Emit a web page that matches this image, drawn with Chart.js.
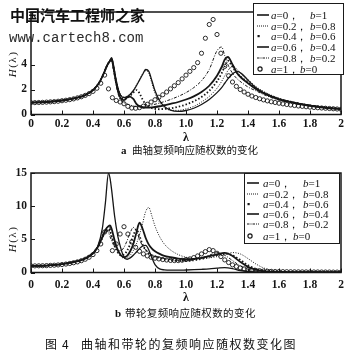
<!DOCTYPE html>
<html>
<head>
<meta charset="utf-8">
<script src="https://cdn.jsdelivr.net/npm/chart.js@4.4.1/dist/chart.umd.min.js"></script>
<style>
  body { margin: 0; background: #fff; }
  #page { position: relative; width: 350px; height: 358px; overflow: hidden; background: #fff; color: #111; font-family: "Liberation Serif", serif; }
  canvas { position: absolute; left: 0; }
  .txt { position: absolute; white-space: nowrap; }
  .cjk { font-family: "Noto Sans CJK SC", sans-serif; }
  .ytitle { position: absolute; width: 40px; height: 14px; line-height: 14px; text-align: center; font-size: 11px; letter-spacing: 1.5px; transform: rotate(-90deg); }
  .lam { position: absolute; width: 20px; text-align: center; font-size: 12px; font-weight: bold; line-height: 12px; }
  .legend { position: absolute; box-sizing: border-box; background: #fff; border: 1.2px solid #1a1a1a; font-size: 11px; }
  .legend .row { position: absolute; left: 0; width: 100%; height: 12px; line-height: 12px; white-space: nowrap; }
  .legend .row span { position: absolute; top: 0; }
</style>
</head>
<body>
<div id="page">
  <canvas id="chartA" width="350" height="140" style="top:0"></canvas>
  <canvas id="chartB" width="350" height="140" style="top:158px"></canvas>

  <div class="txt cjk" style="left:10px;top:5px;font-size:15px;font-weight:bold;line-height:20px">中国汽车工程师之家</div>
  <div class="txt" style="left:9px;top:29px;font-size:14px;line-height:18px;font-family:'Liberation Mono',monospace;color:#2a2a2a">www.cartech8.com</div>

  <div class="ytitle" style="left:-8px;top:57px"><i>H</i>(λ)</div>
  <div class="ytitle" style="left:-8px;top:232px"><i>H</i>(λ)</div>

  <div class="lam" style="left:176px;top:131px">λ</div>
  <div class="lam" style="left:176px;top:291px">λ</div>

  <div class="txt" style="left:121px;top:143px;line-height:14px;font-size:11px;font-weight:bold">a</div>
  <div class="txt cjk" style="left:132px;top:143px;line-height:14px;font-size:10.5px">曲轴复频响应随权数的变化</div>
  <div class="txt" style="left:115px;top:306px;line-height:14px;font-size:11px;font-weight:bold">b</div>
  <div class="txt cjk" style="left:125px;top:306px;line-height:14px;font-size:10.5px;letter-spacing:0.4px">带轮复频响应随权数的变化</div>

  <div class="txt cjk" style="left:45px;top:337px;line-height:14px;font-size:12px">图</div>
  <div class="txt cjk" style="left:62px;top:337px;line-height:14px;font-size:12px">4</div>
  <div class="txt cjk" style="left:81px;top:337px;line-height:14px;font-size:12px;letter-spacing:1.5px">曲轴和带轮的复频响应随权数变化图</div>

  <div id="legendA" class="legend" style="left:253px;top:3px;width:91px;height:72px"></div>
  <div id="legendB" class="legend" style="left:244px;top:173px;width:96px;height:71px"></div>
</div>

<script>
// Axis ticks
const xTicks = [0, 0.2, 0.4, 0.6, 0.8, 1.0, 1.2, 1.4, 1.6, 1.8, 2];
const xTickLabels = ['0', '0.2', '0.4', '0.6', '0.8', '1.0', '1.2', '1.4', '1.6', '1.8', '2'];
const yTicksA = [0, 2, 4];
const yTicksB = [0, 5, 10, 15];

// Legend weights
const weightA = ['0', '0.2', '0.4', '0.6', '0.8', '1'];
const weightB = ['1', '0.8', '0.6', '0.4', '0.2', '0'];

// λ grids (lines / circle markers)
const lamA = [0, 0.1, 0.2, 0.3, 0.35, 0.4, 0.44, 0.47, 0.49, 0.51,
  0.52, 0.53, 0.55, 0.57, 0.6, 0.63, 0.66, 0.68, 0.7, 0.72,
  0.74, 0.76, 0.78, 0.8, 0.83, 0.86, 0.9, 0.95, 1.0, 1.05,
  1.1, 1.15, 1.2, 1.23, 1.25, 1.27, 1.3, 1.33, 1.36, 1.4,
  1.45, 1.5, 1.6, 1.7, 1.8, 1.9, 2.0];
const lamB = [0, 0.1, 0.2, 0.3, 0.35, 0.4, 0.43, 0.46, 0.48, 0.5,
  0.51, 0.52, 0.54, 0.56, 0.58, 0.6, 0.62, 0.64, 0.66, 0.68,
  0.7, 0.72, 0.74, 0.76, 0.78, 0.8, 0.83, 0.86, 0.9, 0.95,
  1.0, 1.05, 1.1, 1.15, 1.2, 1.25, 1.3, 1.35, 1.4, 1.45,
  1.5, 1.55, 1.6, 1.7, 1.8, 1.9, 2.0];
const lamDots = [0, 0.025, 0.05, 0.075, 0.1, 0.125, 0.15, 0.175, 0.2, 0.225,
  0.25, 0.275, 0.3, 0.325, 0.35, 0.375, 0.4, 0.425, 0.45, 0.475,
  0.5, 0.525, 0.55, 0.575, 0.6, 0.625, 0.65, 0.675, 0.7, 0.725,
  0.75, 0.775, 0.8, 0.825, 0.85, 0.875, 0.9, 0.925, 0.95, 0.975,
  1.0, 1.025, 1.05, 1.075, 1.1, 1.125, 1.15, 1.175, 1.2, 1.225,
  1.25, 1.275, 1.3, 1.325, 1.35, 1.375, 1.4, 1.425, 1.45, 1.475,
  1.5, 1.525, 1.55, 1.575, 1.6, 1.625, 1.65, 1.675, 1.7, 1.725,
  1.75, 1.775, 1.8, 1.825, 1.85, 1.875, 1.9, 1.925, 1.95, 1.975, 2.0];

// a: crankshaft H(λ)
const crankA0 = [0.95, 1.0, 1.12, 1.35, 1.55, 1.95, 2.55, 3.3, 3.9, 4.35,
  4.55, 4.1, 2.7, 1.75, 1.35, 1.5, 1.9, 2.3, 2.75, 3.2,
  3.6, 3.45, 2.7, 1.9, 1.1, 0.65, 0.35, 0.25, 0.32, 0.5,
  0.8, 1.2, 1.75, 2.15, 2.5, 2.85, 3.25, 3.45, 3.25, 2.75,
  2.15, 1.75, 1.25, 0.95, 0.72, 0.55, 0.45];
const crankA02 = [0.95, 1.0, 1.12, 1.35, 1.55, 1.95, 2.55, 3.3, 3.9, 4.35,
  4.5, 4.0, 2.7, 1.8, 1.4, 1.55, 1.95, 2.35, 2.8, 3.25,
  3.5, 3.3, 2.5, 1.7, 0.95, 0.55, 0.35, 0.33, 0.45, 0.65,
  1.0, 1.45, 2.1, 2.65, 3.1, 3.5, 3.9, 3.6, 3.2, 2.8,
  2.25, 1.85, 1.3, 0.98, 0.75, 0.57, 0.46];
const crankA04 = [0.95, 1.0, 1.12, 1.35, 1.55, 1.95, 2.55, 3.3, 3.9, 4.3,
  4.4, 3.9, 2.6, 1.7, 1.25, 1.4, 1.75, 1.95, 1.7, 1.2,
  0.8, 0.6, 0.5, 0.45, 0.42, 0.45, 0.5, 0.62, 0.8, 1.05,
  1.4, 1.9, 2.65, 3.3, 3.85, 4.3, 3.8, 3.3, 2.95, 2.6,
  2.1, 1.75, 1.25, 0.95, 0.72, 0.55, 0.44];
const crankA06 = [0.95, 1.0, 1.12, 1.35, 1.55, 1.95, 2.55, 3.3, 3.9, 4.3,
  4.45, 3.9, 2.5, 1.5, 1.15, 1.45, 1.25, 0.85, 0.65, 0.58,
  0.55, 0.55, 0.57, 0.6, 0.66, 0.74, 0.85, 1.0, 1.2, 1.45,
  1.8, 2.3, 3.1, 3.8, 4.4, 4.6, 4.0, 3.3, 2.9, 2.5,
  2.05, 1.7, 1.2, 0.92, 0.7, 0.54, 0.43];
const crankA08 = [0.95, 1.0, 1.12, 1.35, 1.55, 1.95, 2.55, 3.3, 3.85, 4.2,
  4.3, 3.7, 2.3, 1.35, 0.95, 0.8, 0.68, 0.62, 0.6, 0.62,
  0.66, 0.7, 0.76, 0.82, 0.92, 1.03, 1.2, 1.45, 1.75, 2.15,
  2.7, 3.6, 5.1, 5.4, 4.7, 4.0, 3.3, 2.85, 2.55, 2.2,
  1.9, 1.6, 1.15, 0.9, 0.68, 0.53, 0.42];
const crankA1 = [0.95, 0.95, 0.96, 0.97, 0.99, 1.01, 1.03, 1.06, 1.1, 1.14,
  1.19, 1.25, 1.33, 1.42, 1.53, 1.67, 1.85, 2.1, 2.5, 3.15,
  2.05, 1.35, 1.12, 1.0, 0.86, 0.65, 0.52, 0.5, 0.55, 0.67,
  0.82, 1.0, 1.18, 1.38, 1.58, 1.8, 2.05, 2.3, 2.55, 2.85,
  3.15, 3.45, 3.75, 4.15, 4.9, 6.1, 7.2, 7.6, 6.4, 4.9,
  3.85, 3.1, 2.6, 2.25, 2.0, 1.8, 1.62, 1.48, 1.36, 1.26,
  1.17, 1.09, 1.02, 0.96, 0.9, 0.85, 0.8, 0.76, 0.72, 0.68,
  0.65, 0.62, 0.59, 0.56, 0.54, 0.52, 0.5, 0.48, 0.46, 0.44, 0.42];

// b: pulley H(λ)
const pulleyA0 = [1.0, 1.05, 1.25, 1.7, 2.1, 2.9, 3.9, 6.6, 10.5, 15.0,
  14.2, 12.5, 8.4, 5.5, 3.6, 2.3, 2.0, 2.2, 2.6, 3.1,
  3.6, 4.0, 4.1, 3.4, 2.2, 1.2, 0.55, 0.4, 0.35, 0.35,
  0.38, 0.42, 0.48, 0.55, 0.65, 0.75, 0.6, 0.3, 0.15, 0.1,
  0.08, 0.07, 0.06, 0.05, 0.05, 0.04, 0.04];
const pulleyA02 = [1.0, 1.05, 1.25, 1.7, 2.1, 2.9, 3.8, 5.2, 6.0, 6.3,
  6.0, 5.3, 4.2, 3.2, 2.5, 2.1, 2.2, 2.6, 3.3, 4.3,
  5.7, 7.4, 9.2, 9.8, 8.5, 7.0, 5.4, 4.3, 3.4, 2.7,
  2.3, 2.1, 2.1, 2.2, 2.4, 2.7, 3.0, 2.8, 2.1, 1.3,
  0.7, 0.35, 0.2, 0.1, 0.07, 0.05, 0.04];
const pulleyA04 = [1.0, 1.05, 1.25, 1.7, 2.1, 2.9, 3.8, 5.2, 6.2, 6.6,
  6.3, 5.5, 4.0, 3.0, 2.6, 2.7, 3.3, 4.3, 5.6, 6.5,
  5.5, 4.2, 3.4, 2.9, 2.6, 2.4, 2.2, 2.0, 1.85, 1.75,
  1.75, 1.85, 2.05, 2.35, 2.65, 2.85, 2.6, 1.9, 1.1, 0.55,
  0.28, 0.16, 0.1, 0.07, 0.05, 0.04, 0.04];
const pulleyA06 = [1.0, 1.05, 1.25, 1.7, 2.1, 2.9, 3.8, 5.3, 6.4, 7.0,
  7.1, 6.6, 4.8, 3.4, 2.6, 2.3, 2.5, 3.2, 4.3, 6.0,
  7.5, 6.6, 5.2, 4.2, 3.6, 3.2, 2.8, 2.5, 2.3, 2.1,
  2.0, 2.05, 2.2, 2.45, 2.75, 2.95, 2.5, 1.6, 0.85, 0.42,
  0.22, 0.13, 0.09, 0.06, 0.05, 0.04, 0.04];
const pulleyA08 = [1.0, 1.05, 1.25, 1.7, 2.1, 2.9, 3.9, 5.6, 6.3, 6.0,
  5.4, 4.8, 3.8, 3.3, 3.3, 3.8, 4.8, 6.0, 6.8, 6.3,
  5.0, 4.0, 3.4, 3.0, 2.7, 2.5, 2.3, 2.1, 1.95, 1.85,
  1.85, 1.95, 2.2, 2.6, 3.0, 2.6, 1.8, 1.0, 0.5, 0.25,
  0.15, 0.1, 0.08, 0.06, 0.05, 0.04, 0.04];
const pulleyA1 = [1.0, 1.0, 1.01, 1.02, 1.04, 1.07, 1.1, 1.14, 1.2, 1.27,
  1.36, 1.47, 1.6, 1.78, 2.0, 2.3, 2.7, 3.3, 4.3, 6.1,
  6.6, 3.3, 4.3, 5.8, 6.9, 5.8, 4.6, 3.8, 3.2, 2.8,
  2.5, 2.3, 2.15, 2.05, 1.95, 1.88, 1.82, 1.8, 1.8, 1.85,
  1.95, 2.05, 2.25, 2.5, 2.8, 3.15, 3.45, 3.3, 2.9, 2.4,
  1.9, 1.5, 1.15, 0.9, 0.7, 0.55, 0.45, 0.37, 0.31, 0.26,
  0.22, 0.19, 0.17, 0.15, 0.14, 0.13, 0.12, 0.11, 0.1, 0.1,
  0.09, 0.09, 0.08, 0.08, 0.08, 0.07, 0.07, 0.07, 0.06, 0.06, 0.06];

const INK = '#161616';

// Line styles for a = 0 .. 0.8
const lineStyles = [
  { w: 1.3, dash: [] },
  { w: 1.0, dash: [1, 1.5] },
  { w: 1.8, dash: [1.5, 2] },
  { w: 1.8, dash: [] },
  { w: 1.0, dash: [3, 1.5, 1, 1.5] }
];

function lineSet(lams, vals, style) {
  return {
    data: lams.map((x, i) => ({ x, y: vals[i] })),
    borderColor: INK,
    borderWidth: style.w,
    borderDash: style.dash,
    pointRadius: 0,
    cubicInterpolationMode: 'monotone',
    fill: false
  };
}

function circleSet(lams, vals) {
  return {
    data: lams.map((x, i) => ({ x, y: vals[i] })),
    showLine: false,
    pointStyle: 'circle',
    pointRadius: 2.1,
    pointBorderWidth: 0.9,
    pointBorderColor: INK,
    pointBackgroundColor: 'rgba(0,0,0,0)'
  };
}

// Frame box + inward tick marks
const frame = {
  id: 'frame',
  afterDatasetsDraw(chart) {
    const { ctx, chartArea: a, scales: { x, y } } = chart;
    ctx.save();
    ctx.strokeStyle = INK;
    ctx.lineWidth = 1;
    ctx.beginPath();
    x.ticks.forEach(t => {
      const px = Math.round(x.getPixelForValue(t.value)) + 0.5;
      ctx.moveTo(px, a.bottom);
      ctx.lineTo(px, a.bottom - 4);
    });
    y.ticks.forEach(t => {
      const py = Math.round(y.getPixelForValue(t.value)) + 0.5;
      ctx.moveTo(a.left, py);
      ctx.lineTo(a.left + 4, py);
    });
    ctx.stroke();
    ctx.lineWidth = 1.5;
    ctx.strokeRect(a.left, a.top, a.right - a.left, a.bottom - a.top);
    ctx.restore();
  }
};

function makeChart(id, datasets, yMax, yTicks, topPad, labelPad) {
  const tickFont = { family: 'Liberation Serif', size: 11.5, weight: 'bold' };
  return new Chart(document.getElementById(id), {
    type: 'line',
    data: { datasets },
    options: {
      responsive: false,
      animation: false,
      events: [],
      layout: { padding: { top: topPad, right: 9, left: 0, bottom: 0 } },
      plugins: { legend: { display: false }, tooltip: { enabled: false } },
      scales: {
        x: {
          type: 'linear', min: 0, max: 2,
          afterBuildTicks: s => { s.ticks = xTicks.map(v => ({ value: v })); },
          afterFit: s => { s.height = 25.5; },
          grid: { display: false, drawTicks: false }, border: { display: false },
          ticks: { color: INK, font: tickFont, padding: labelPad, autoSkip: false, maxRotation: 0,
                   callback: (v, i) => xTickLabels[i] }
        },
        y: {
          min: 0, max: yMax,
          afterBuildTicks: s => { s.ticks = yTicks.map(v => ({ value: v })); },
          afterFit: s => { s.width = 31; },
          grid: { display: false, drawTicks: false }, border: { display: false },
          ticks: { color: INK, font: tickFont, padding: 4, callback: v => String(v) }
        }
      }
    },
    plugins: [frame]
  });
}

makeChart('chartA', [
  lineSet(lamA, crankA0, lineStyles[0]),
  lineSet(lamA, crankA02, lineStyles[1]),
  lineSet(lamA, crankA04, lineStyles[2]),
  lineSet(lamA, crankA06, lineStyles[3]),
  lineSet(lamA, crankA08, lineStyles[4]),
  circleSet(lamDots, crankA1)
], 8.2, yTicksA, 12, 3);

makeChart('chartB', [
  lineSet(lamB, pulleyA0, lineStyles[0]),
  lineSet(lamB, pulleyA02, lineStyles[1]),
  lineSet(lamB, pulleyA04, lineStyles[2]),
  lineSet(lamB, pulleyA06, lineStyles[3]),
  lineSet(lamB, pulleyA08, lineStyles[4]),
  circleSet(lamDots, pulleyA1)
], 15, yTicksB, 15, 5.5);

// Legends
const sampleKinds = ['solid', 'dotted', 'dot', 'solid', 'dashdot', 'circle'];

function sample(kind) {
  if (kind === 'dot') return '<svg width="13" height="8"><rect x="0.5" y="3" width="2.2" height="2.2" fill="#161616"/></svg>';
  if (kind === 'circle') return '<svg width="13" height="8"><circle cx="3" cy="4" r="2.1" fill="none" stroke="#161616" stroke-width="1.2"/></svg>';
  const dash = kind === 'dotted' ? '1 1' : kind === 'dashdot' ? '2.5 1 1 1' : 'none';
  const w = kind === 'solid' ? 1.6 : 1.1;
  return `<svg width="13" height="8"><line x1="0" y1="4" x2="12" y2="4" stroke="#161616" stroke-width="${w}" stroke-dasharray="${dash}"/></svg>`;
}

function buildLegend(id, rowsY, sx, ax, bx, bxLast) {
  const el = document.getElementById(id);
  el.innerHTML = '';
  weightA.forEach((a, i) => {
    const last = i === weightA.length - 1;
    el.innerHTML += `
      <div class="row" style="top:${rowsY[i] - 6}px">
        <span style="left:${sx}px;top:2px;line-height:0">${sample(sampleKinds[i])}</span>
        <span style="left:${ax}px"><i>a</i>=${a}，</span>
        <span style="left:${last ? bxLast : bx}px"><i>b</i>=${weightB[i]}</span>
      </div>`;
  });
}

buildLegend('legendA', [10.5, 21.5, 31.5, 42.5, 53.5, 64.5], 3, 17, 56, 46);
buildLegend('legendB', [8.5, 19.5, 29.5, 39.5, 49.5, 61.5], 2, 18, 58, 48);
</script>
</body>
</html>
